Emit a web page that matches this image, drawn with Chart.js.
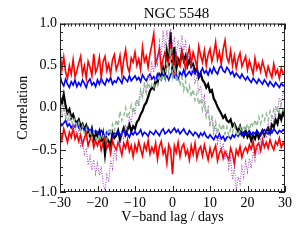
<!DOCTYPE html>
<html><head><meta charset="utf-8">
<script src="https://cdn.jsdelivr.net/npm/chart.js@4"></script>
<style>html,body{margin:0;padding:0;background:#fff}#c{display:block}</style>
</head><body>
<canvas id="c" width="300" height="240"></canvas>
<script>
const lags = [-30,-29.5,-29,-28.5,-28,-27.5,-27,-26.5,-26,-25.5,-25,-24.5,-24,-23.5,-23,-22.5,-22,-21.5,-21,-20.5,
-20,-19.5,-19,-18.5,-18,-17.5,-17,-16.5,-16,-15.5,-15,-14.5,-14,-13.5,-13,-12.5,-12,-11.5,-11,-10.5,
-10,-9.5,-9,-8.5,-8,-7.5,-7,-6.5,-6,-5.5,-5,-4.5,-4,-3.5,-3,-2.5,-2,-1.5,-1,-0.5,
0,0.5,1,1.5,2,2.5,3,3.5,4,4.5,5,5.5,6,6.5,7,7.5,8,8.5,9,9.5,
10,10.5,11,11.5,12,12.5,13,13.5,14,14.5,15,15.5,16,16.5,17,17.5,18,18.5,19,19.5,
20,20.5,21,21.5,22,22.5,23,23.5,24,24.5,25,25.5,26,26.5,27,27.5,28,28.5,29,29.5,30];

const redUpper = [0.68,0.45,0.60,0.42,0.35,0.50,0.40,0.57,0.37,0.44,
0.53,0.61,0.40,0.50,0.35,0.55,0.48,0.38,0.64,0.42,
0.48,0.60,0.36,0.55,0.61,0.44,0.52,0.40,0.57,0.63,
0.45,0.52,0.62,0.40,0.57,0.69,0.49,0.42,0.59,0.54,
0.66,0.50,0.58,0.45,0.72,0.55,0.61,0.48,0.64,0.75,
0.88,0.52,0.60,0.70,0.47,0.58,0.66,0.50,0.55,0.72,
0.60,0.44,0.63,0.53,0.49,0.68,0.57,0.46,0.62,0.71,
0.52,0.66,0.58,0.48,0.73,0.62,0.54,0.68,0.50,0.63,
0.70,0.55,0.64,0.78,0.57,0.66,0.52,0.69,0.80,0.60,
0.54,0.68,0.50,0.62,0.47,0.58,0.65,0.49,0.55,0.61,
0.45,0.56,0.48,0.40,0.59,0.46,0.52,0.43,0.55,0.47,
0.38,0.49,0.42,0.36,0.52,0.40,0.45,0.35,0.47,0.41,0.39];

const blueUpper = [0.38,0.30,0.26,0.34,0.28,0.24,0.31,0.27,0.33,0.25,
0.30,0.26,0.33,0.29,0.24,0.31,0.34,0.27,0.30,0.25,
0.33,0.28,0.35,0.30,0.27,0.34,0.31,0.36,0.28,0.32,
0.30,0.36,0.33,0.29,0.37,0.34,0.31,0.38,0.32,0.35,
0.38,0.33,0.36,0.31,0.39,0.35,0.32,0.37,0.40,0.34,
0.37,0.32,0.40,0.36,0.33,0.41,0.35,0.38,0.33,0.39,
0.43,0.36,0.39,0.34,0.42,0.38,0.45,0.37,0.40,0.43,
0.39,0.44,0.40,0.46,0.38,0.42,0.47,0.41,0.44,0.39,
0.46,0.41,0.48,0.43,0.40,0.47,0.50,0.44,0.42,0.48,
0.45,0.40,0.43,0.37,0.41,0.38,0.35,0.40,0.36,0.33,
0.37,0.33,0.30,0.35,0.32,0.29,0.34,0.31,0.28,0.33,
0.30,0.26,0.31,0.28,0.25,0.30,0.27,0.24,0.29,0.26,0.27];

const blueLower = [-0.17,-0.21,-0.18,-0.15,-0.22,-0.19,-0.24,-0.20,-0.23,-0.18,
-0.24,-0.27,-0.22,-0.26,-0.30,-0.24,-0.28,-0.25,-0.31,-0.27,
-0.29,-0.33,-0.27,-0.30,-0.34,-0.29,-0.32,-0.28,-0.35,-0.30,
-0.31,-0.28,-0.34,-0.30,-0.27,-0.33,-0.31,-0.35,-0.29,-0.32,
-0.28,-0.32,-0.30,-0.26,-0.33,-0.29,-0.31,-0.34,-0.28,-0.30,
-0.32,-0.27,-0.30,-0.33,-0.28,-0.25,-0.31,-0.29,-0.26,-0.30,
-0.27,-0.24,-0.29,-0.26,-0.31,-0.28,-0.25,-0.30,-0.32,-0.27,
-0.30,-0.33,-0.29,-0.31,-0.35,-0.30,-0.33,-0.29,-0.34,-0.36,
-0.32,-0.35,-0.38,-0.33,-0.36,-0.31,-0.37,-0.34,-0.39,-0.35,
-0.34,-0.37,-0.32,-0.35,-0.31,-0.34,-0.30,-0.33,-0.29,-0.32,
-0.30,-0.27,-0.32,-0.29,-0.31,-0.27,-0.30,-0.33,-0.28,-0.26,
-0.29,-0.31,-0.27,-0.30,-0.25,-0.28,-0.31,-0.27,-0.29,-0.26,-0.28];

const redLower = [-0.28,-0.38,-0.25,-0.33,-0.41,-0.29,-0.35,-0.24,-0.37,-0.31,
-0.40,-0.32,-0.44,-0.36,-0.30,-0.45,-0.38,-0.34,-0.47,-0.39,
-0.45,-0.37,-0.50,-0.41,-0.36,-0.48,-0.43,-0.54,-0.39,-0.46,
-0.50,-0.41,-0.47,-0.56,-0.42,-0.48,-0.38,-0.52,-0.45,-0.58,
-0.44,-0.52,-0.40,-0.49,-0.57,-0.43,-0.50,-0.39,-0.55,-0.47,
-0.53,-0.42,-0.61,-0.46,-0.40,-0.55,-0.49,-0.66,-0.44,-0.50,
-0.79,-0.45,-0.53,-0.41,-0.58,-0.47,-0.43,-0.56,-0.50,-0.62,
-0.45,-0.55,-0.42,-0.60,-0.50,-0.46,-0.57,-0.44,-0.53,-0.62,
-0.48,-0.58,-0.51,-0.45,-0.63,-0.54,-0.49,-0.60,-0.52,-0.57,
-0.62,-0.48,-0.55,-0.67,-0.50,-0.56,-0.46,-0.59,-0.51,-0.47,
-0.53,-0.44,-0.49,-0.40,-0.55,-0.45,-0.42,-0.51,-0.38,-0.47,
-0.41,-0.48,-0.38,-0.45,-0.50,-0.40,-0.44,-0.36,-0.47,-0.42,-0.45];

const blackCCF = [0.12,0.06,0.16,0.02,-0.06,-0.02,-0.12,-0.08,-0.15,-0.18,
-0.14,-0.22,-0.19,-0.26,-0.21,-0.30,-0.34,-0.25,-0.38,-0.30,
-0.34,-0.28,-0.44,-0.32,-0.55,-0.36,-0.40,-0.45,-0.30,-0.36,
-0.33,-0.27,-0.38,-0.30,-0.24,-0.32,-0.26,-0.20,-0.28,-0.22,
-0.25,-0.17,-0.14,-0.08,-0.04,0.03,0.06,0.13,0.20,0.24,
0.22,0.33,0.29,0.40,0.37,0.47,0.38,0.66,0.48,0.90,
0.40,0.72,0.46,0.58,0.53,0.66,0.56,0.62,0.50,0.57,
0.49,0.52,0.43,0.47,0.36,0.41,0.33,0.30,0.24,0.28,
0.19,0.21,0.11,0.07,0.01,-0.03,-0.07,-0.12,-0.09,-0.15,
-0.17,-0.14,-0.22,-0.19,-0.24,-0.28,-0.22,-0.30,-0.34,-0.27,
-0.35,-0.31,-0.39,-0.33,-0.37,-0.29,-0.36,-0.31,-0.27,-0.33,
-0.28,-0.24,-0.30,-0.20,-0.23,-0.14,-0.19,-0.07,-0.14,-0.05,-0.10];

const greenCCF = [-0.04,-0.12,-0.02,-0.10,-0.16,-0.08,-0.14,-0.20,-0.13,-0.22,
-0.17,-0.27,-0.21,-0.30,-0.24,-0.33,-0.27,-0.37,-0.29,-0.34,
-0.40,-0.31,-0.43,-0.34,-0.29,-0.38,-0.24,-0.32,-0.20,-0.27,
-0.14,-0.22,-0.04,-0.15,-0.10,0.00,-0.12,-0.06,0.03,-0.07,
0.02,0.10,0.05,0.21,0.13,0.27,0.18,0.30,0.22,0.28,
0.24,0.34,0.27,0.39,0.31,0.43,0.35,0.56,0.41,0.70,
0.37,0.50,0.31,0.41,0.26,0.36,0.21,0.31,0.17,0.26,
0.13,0.22,0.09,0.17,0.04,0.11,-0.03,0.05,-0.11,-0.04,
-0.19,-0.11,-0.26,-0.17,-0.31,-0.21,-0.27,-0.19,-0.31,-0.23,
-0.33,-0.25,-0.29,-0.21,-0.30,-0.34,-0.23,-0.29,-0.21,-0.27,
-0.19,-0.27,-0.17,-0.23,-0.14,-0.22,-0.11,-0.19,-0.09,-0.15,
-0.07,-0.15,-0.04,-0.11,-0.02,-0.09,0.01,-0.05,0.04,-0.03,0.02];

const purpleCCF = [0.08,-0.04,0.05,-0.12,-0.06,-0.16,-0.10,-0.26,-0.20,-0.32,
-0.26,-0.45,-0.38,-0.55,-0.48,-0.68,-0.58,-0.74,-0.62,-0.78,
-0.66,-0.80,-0.70,-0.90,-0.98,-0.80,-0.88,-0.62,-0.72,-0.50,
-0.60,-0.40,-0.50,-0.30,-0.38,-0.20,-0.28,-0.10,-0.18,0.00,
-0.08,0.10,0.02,0.20,0.12,0.30,0.20,0.40,0.32,0.52,
0.42,0.64,0.52,0.78,0.62,0.88,0.70,0.92,0.76,0.94,
0.74,0.82,0.62,0.80,0.66,0.86,0.68,0.78,0.56,0.64,
0.42,0.50,0.30,0.38,0.18,0.26,0.05,0.14,-0.08,0.00,
-0.20,-0.10,-0.30,-0.20,-0.42,-0.32,-0.52,-0.42,-0.62,-0.50,
-0.72,-0.60,-0.85,-0.72,-0.98,-0.82,-0.90,-0.70,-0.82,-0.64,
-0.76,-0.60,-0.72,-0.52,-0.62,-0.45,-0.55,-0.36,-0.45,-0.28,
-0.36,-0.18,-0.26,-0.08,-0.16,0.02,-0.05,0.12,0.04,0.20,0.12];

const chartTitle = 'NGC 5548';
const xTickLabels = [-30,-20,-10,0,10,20,30];
const yTickLabels = [-1.0,-0.5,0.0,0.5,1.0];

const pts = arr => arr.map((v,i)=>({x:lags[i], y:v}));
const FONT = "'Liberation Serif','DejaVu Serif',serif";
const minus = s => String(s).replace('-', '\u2212');

const frame = {
  id:'frame',
  afterDatasetsDraw(chart){
    const {ctx, chartArea:{left,right,top,bottom}, scales:{x,y}} = chart;
    ctx.save();
    ctx.strokeStyle = '#222';
    ctx.lineWidth = 1;
    ctx.strokeRect(left+0.5, top+0.5, right-left-1, bottom-top-1);
    ctx.beginPath();
    for (let d = -30; d <= 30; d++) {
      const px = Math.round(x.getPixelForValue(d)) + 0.5;
      const len = (d % 10 === 0) ? 6 : 3;
      ctx.moveTo(px, bottom); ctx.lineTo(px, bottom-len);
      ctx.moveTo(px, top); ctx.lineTo(px, top+len);
    }
    for (let k = -10; k <= 10; k++) {
      const py = Math.round(y.getPixelForValue(k/10)) + 0.5;
      const len = (k % 5 === 0) ? 6 : 3;
      ctx.moveTo(left, py); ctx.lineTo(left+len, py);
      ctx.moveTo(right, py); ctx.lineTo(right-len, py);
    }
    ctx.stroke();
    ctx.fillStyle = '#000';
    ctx.font = "15px " + FONT;
    ctx.textAlign = 'center';
    ctx.textBaseline = 'alphabetic';
    ctx.fillText(chartTitle, (left + right) / 2 + 4, 17.5);
    ctx.restore();
  }
};

const ds = (label, data, color, width, dash) => ({
  label, data: pts(data), borderColor: color, borderWidth: width,
  borderDash: dash || [], pointRadius: 0, fill: false, tension: 0
});

new Chart(document.getElementById('c'), {
  type: 'line',
  data: { datasets: [
    ds('green', greenCCF, '#93bb93', 1.5, [4,3]),
    ds('purple', purpleCCF, '#a64cc6', 1.1, [1,1.5]),
    ds('redU', redUpper, '#ff0000', 1.6),
    ds('redL', redLower, '#ff0000', 1.6),
    ds('blueU', blueUpper, '#0000ff', 1.6),
    ds('blueL', blueLower, '#0000ff', 1.6),
    ds('black', blackCCF, '#000000', 2.2)
  ]},
  options: {
    responsive: false, animation: false, devicePixelRatio: 1,
    layout: { padding: { left: 0, right: 15, top: 23.5, bottom: 0 } },
    plugins: {
      legend: { display: false }, tooltip: { enabled: false }, title: { display: false }
    },
    scales: {
      x: { type: 'linear', min: -30, max: 30,
        afterBuildTicks: s => { s.ticks = xTickLabels.map(v=>({value:v})); },
        afterFit: s => { s.height = 48; },
        grid: { display: false, drawTicks: false }, border: { display: false },
        ticks: { color: '#000', font: { family: FONT, size: 14 }, padding: 3, maxRotation: 0,
          callback: v => minus(v) },
        title: { display: true, text: 'V\u2212band lag / days', color: '#000',
          font: { family: FONT, size: 14 }, padding: { top: 0, bottom: 14 } }
      },
      y: { type: 'linear', min: -1, max: 1,
        afterBuildTicks: s => { s.ticks = yTickLabels.map(v=>({value:v})); },
        afterFit: s => { s.width = 60; },
        grid: { display: false, drawTicks: false }, border: { display: false },
        ticks: { color: '#000', font: { family: FONT, size: 14 }, padding: 3,
          callback: v => minus(Number(v).toFixed(1)) },
        title: { display: true, text: 'Correlation', color: '#000',
          font: { family: FONT, size: 14 }, padding: { top: 15, bottom: 0 } }
      }
    }
  },
  plugins: [frame]
});
</script>
</body></html>
